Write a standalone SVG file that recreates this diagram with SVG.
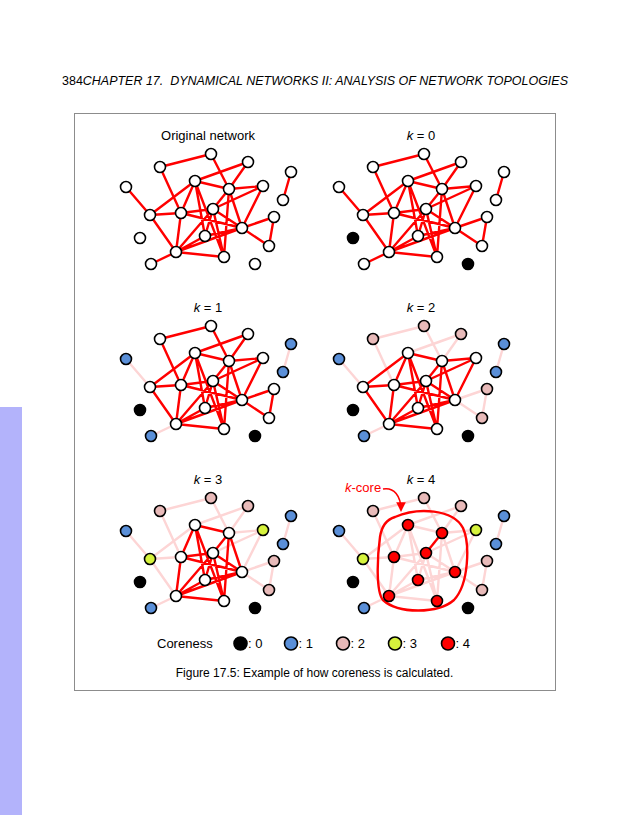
<svg xmlns="http://www.w3.org/2000/svg" xmlns:xlink="http://www.w3.org/1999/xlink" width="630" height="815" viewBox="0 0 630 815">
<style>
text{font-family:"Liberation Sans",Arial,sans-serif;fill:#000}
.red{stroke:#f00;stroke-width:2.4;fill:none;stroke-linecap:round}
.pink{stroke:#fdd5d5;stroke-width:2.4;fill:none;stroke-linecap:round}
circle{stroke:#000;stroke-width:1.6}
.w{fill:#fff}.c0{fill:#000}.c1{fill:#5a8fd8}.c2{fill:#e8bab9}.c3{fill:#d6f23c}.c4{fill:#f00}
.ttl{font-size:13px;text-anchor:middle}
</style>
<defs>
<path id="m1" d="M291 172L283 200M126 187L150 215M176 252L151 264"/>
<path id="m2" d="M211 154L160 167M211 154L229 189M160 167L181 213M248 162L195 181M248 162L229 189M274 217L242 228M274 217L269 246M242 228L269 246"/>
<path id="m3" d="M150 215L195 181M150 215L181 213M150 215L176 252M263 186L229 189M263 186L213 209M263 186L242 228"/>
<path id="m4" d="M195 181L229 189M195 181L181 213M195 181L205 236M195 181L224 257M229 189L242 228M229 189L224 257M181 213L213 209M181 213L176 252M181 213L242 228M213 209L242 228M213 209L176 252M213 209L224 257M213 209L205 236M205 236L242 228M205 236L176 252M176 252L224 257M176 252L242 228"/>
<path id="gl" d="M229 189L213 209"/>
<marker id="ah" viewBox="0 0 10 10" refX="8" refY="5" markerWidth="6" markerHeight="6" orient="auto"><path d="M0 0L10 5L0 10z" fill="#f00"/></marker>
</defs>
<rect x="0" y="407" width="22" height="408" fill="#b3b3fb"/>
<text x="62" y="85" font-size="12" textLength="506" lengthAdjust="spacingAndGlyphs" xml:space="preserve">384<tspan font-style="italic">CHAPTER 17.  DYNAMICAL NETWORKS II: ANALYSIS OF NETWORK TOPOLOGIES</tspan></text>
<rect x="74.5" y="113.5" width="481" height="577" fill="none" stroke="#8c8c8c" stroke-width="1"/>

<g id="panel-original">
<text class="ttl" x="208" y="140">Original network</text>
<g id="connectors-original"><use xlink:href="#m1" class="red"/><use xlink:href="#m2" class="red"/><use xlink:href="#m3" class="red"/><use xlink:href="#m4" class="red"/><use xlink:href="#gl" class="red"/></g>
<g id="o-A"><circle class="w" cx="211" cy="154" r="5.5"/></g>
<g id="o-B"><circle class="w" cx="160" cy="167" r="5.5"/></g>
<g id="o-C"><circle class="w" cx="248" cy="162" r="5.5"/></g>
<g id="o-D"><circle class="w" cx="291" cy="172" r="5.5"/></g>
<g id="o-E"><circle class="w" cx="126" cy="187" r="5.5"/></g>
<g id="o-F"><circle class="w" cx="195" cy="181" r="5.5"/></g>
<g id="o-G"><circle class="w" cx="229" cy="189" r="5.5"/></g>
<g id="o-H"><circle class="w" cx="263" cy="186" r="5.5"/></g>
<g id="o-I"><circle class="w" cx="283" cy="200" r="5.5"/></g>
<g id="o-J"><circle class="w" cx="150" cy="215" r="5.5"/></g>
<g id="o-K"><circle class="w" cx="181" cy="213" r="5.5"/></g>
<g id="o-L"><circle class="w" cx="213" cy="209" r="5.5"/></g>
<g id="o-M"><circle class="w" cx="274" cy="217" r="5.5"/></g>
<g id="o-N"><circle class="w" cx="242" cy="228" r="5.5"/></g>
<g id="o-O"><circle class="w" cx="140" cy="238" r="5.5"/></g>
<g id="o-P"><circle class="w" cx="205" cy="236" r="5.5"/></g>
<g id="o-Q"><circle class="w" cx="269" cy="246" r="5.5"/></g>
<g id="o-R"><circle class="w" cx="176" cy="252" r="5.5"/></g>
<g id="o-S"><circle class="w" cx="224" cy="257" r="5.5"/></g>
<g id="o-T"><circle class="w" cx="151" cy="264" r="5.5"/></g>
<g id="o-U"><circle class="w" cx="255" cy="264" r="5.5"/></g>
</g>

<g id="panel-k0" transform="translate(213,0)">
<text class="ttl" x="208" y="140"><tspan font-style="italic">k</tspan> = 0</text>
<g id="connectors-k0"><use xlink:href="#m1" class="red"/><use xlink:href="#m2" class="red"/><use xlink:href="#m3" class="red"/><use xlink:href="#m4" class="red"/><use xlink:href="#gl" class="red"/></g>
<g id="k0-A"><circle class="w" cx="211" cy="154" r="5.5"/></g>
<g id="k0-B"><circle class="w" cx="160" cy="167" r="5.5"/></g>
<g id="k0-C"><circle class="w" cx="248" cy="162" r="5.5"/></g>
<g id="k0-D"><circle class="w" cx="291" cy="172" r="5.5"/></g>
<g id="k0-E"><circle class="w" cx="126" cy="187" r="5.5"/></g>
<g id="k0-F"><circle class="w" cx="195" cy="181" r="5.5"/></g>
<g id="k0-G"><circle class="w" cx="229" cy="189" r="5.5"/></g>
<g id="k0-H"><circle class="w" cx="263" cy="186" r="5.5"/></g>
<g id="k0-I"><circle class="w" cx="283" cy="200" r="5.5"/></g>
<g id="k0-J"><circle class="w" cx="150" cy="215" r="5.5"/></g>
<g id="k0-K"><circle class="w" cx="181" cy="213" r="5.5"/></g>
<g id="k0-L"><circle class="w" cx="213" cy="209" r="5.5"/></g>
<g id="k0-M"><circle class="w" cx="274" cy="217" r="5.5"/></g>
<g id="k0-N"><circle class="w" cx="242" cy="228" r="5.5"/></g>
<g id="k0-O"><circle class="c0" cx="140" cy="238" r="5.5"/></g>
<g id="k0-P"><circle class="w" cx="205" cy="236" r="5.5"/></g>
<g id="k0-Q"><circle class="w" cx="269" cy="246" r="5.5"/></g>
<g id="k0-R"><circle class="w" cx="176" cy="252" r="5.5"/></g>
<g id="k0-S"><circle class="w" cx="224" cy="257" r="5.5"/></g>
<g id="k0-T"><circle class="w" cx="151" cy="264" r="5.5"/></g>
<g id="k0-U"><circle class="c0" cx="255" cy="264" r="5.5"/></g>
</g>

<g id="panel-k1" transform="translate(0,172)">
<text class="ttl" x="208" y="140"><tspan font-style="italic">k</tspan> = 1</text>
<g id="connectors-k1"><use xlink:href="#m1" class="pink"/><use xlink:href="#m2" class="red"/><use xlink:href="#m3" class="red"/><use xlink:href="#m4" class="red"/><use xlink:href="#gl" class="red"/></g>
<g id="k1-A"><circle class="w" cx="211" cy="154" r="5.5"/></g>
<g id="k1-B"><circle class="w" cx="160" cy="167" r="5.5"/></g>
<g id="k1-C"><circle class="w" cx="248" cy="162" r="5.5"/></g>
<g id="k1-D"><circle class="c1" cx="291" cy="172" r="5.5"/></g>
<g id="k1-E"><circle class="c1" cx="126" cy="187" r="5.5"/></g>
<g id="k1-F"><circle class="w" cx="195" cy="181" r="5.5"/></g>
<g id="k1-G"><circle class="w" cx="229" cy="189" r="5.5"/></g>
<g id="k1-H"><circle class="w" cx="263" cy="186" r="5.5"/></g>
<g id="k1-I"><circle class="c1" cx="283" cy="200" r="5.5"/></g>
<g id="k1-J"><circle class="w" cx="150" cy="215" r="5.5"/></g>
<g id="k1-K"><circle class="w" cx="181" cy="213" r="5.5"/></g>
<g id="k1-L"><circle class="w" cx="213" cy="209" r="5.5"/></g>
<g id="k1-M"><circle class="w" cx="274" cy="217" r="5.5"/></g>
<g id="k1-N"><circle class="w" cx="242" cy="228" r="5.5"/></g>
<g id="k1-O"><circle class="c0" cx="140" cy="238" r="5.5"/></g>
<g id="k1-P"><circle class="w" cx="205" cy="236" r="5.5"/></g>
<g id="k1-Q"><circle class="w" cx="269" cy="246" r="5.5"/></g>
<g id="k1-R"><circle class="w" cx="176" cy="252" r="5.5"/></g>
<g id="k1-S"><circle class="w" cx="224" cy="257" r="5.5"/></g>
<g id="k1-T"><circle class="c1" cx="151" cy="264" r="5.5"/></g>
<g id="k1-U"><circle class="c0" cx="255" cy="264" r="5.5"/></g>
</g>

<g id="panel-k2" transform="translate(213,172)">
<text class="ttl" x="208" y="140"><tspan font-style="italic">k</tspan> = 2</text>
<g id="connectors-k2"><use xlink:href="#m1" class="pink"/><use xlink:href="#m2" class="pink"/><use xlink:href="#m3" class="red"/><use xlink:href="#m4" class="red"/><use xlink:href="#gl" class="red"/></g>
<g id="k2-A"><circle class="c2" cx="211" cy="154" r="5.5"/></g>
<g id="k2-B"><circle class="c2" cx="160" cy="167" r="5.5"/></g>
<g id="k2-C"><circle class="c2" cx="248" cy="162" r="5.5"/></g>
<g id="k2-D"><circle class="c1" cx="291" cy="172" r="5.5"/></g>
<g id="k2-E"><circle class="c1" cx="126" cy="187" r="5.5"/></g>
<g id="k2-F"><circle class="w" cx="195" cy="181" r="5.5"/></g>
<g id="k2-G"><circle class="w" cx="229" cy="189" r="5.5"/></g>
<g id="k2-H"><circle class="w" cx="263" cy="186" r="5.5"/></g>
<g id="k2-I"><circle class="c1" cx="283" cy="200" r="5.5"/></g>
<g id="k2-J"><circle class="w" cx="150" cy="215" r="5.5"/></g>
<g id="k2-K"><circle class="w" cx="181" cy="213" r="5.5"/></g>
<g id="k2-L"><circle class="w" cx="213" cy="209" r="5.5"/></g>
<g id="k2-M"><circle class="c2" cx="274" cy="217" r="5.5"/></g>
<g id="k2-N"><circle class="w" cx="242" cy="228" r="5.5"/></g>
<g id="k2-O"><circle class="c0" cx="140" cy="238" r="5.5"/></g>
<g id="k2-P"><circle class="w" cx="205" cy="236" r="5.5"/></g>
<g id="k2-Q"><circle class="c2" cx="269" cy="246" r="5.5"/></g>
<g id="k2-R"><circle class="w" cx="176" cy="252" r="5.5"/></g>
<g id="k2-S"><circle class="w" cx="224" cy="257" r="5.5"/></g>
<g id="k2-T"><circle class="c1" cx="151" cy="264" r="5.5"/></g>
<g id="k2-U"><circle class="c0" cx="255" cy="264" r="5.5"/></g>
</g>

<g id="panel-k3" transform="translate(0,344)">
<text class="ttl" x="208" y="140"><tspan font-style="italic">k</tspan> = 3</text>
<g id="connectors-k3"><use xlink:href="#m1" class="pink"/><use xlink:href="#m2" class="pink"/><use xlink:href="#m3" class="pink"/><use xlink:href="#m4" class="red"/><use xlink:href="#gl" class="red"/></g>
<g id="k3-A"><circle class="c2" cx="211" cy="154" r="5.5"/></g>
<g id="k3-B"><circle class="c2" cx="160" cy="167" r="5.5"/></g>
<g id="k3-C"><circle class="c2" cx="248" cy="162" r="5.5"/></g>
<g id="k3-D"><circle class="c1" cx="291" cy="172" r="5.5"/></g>
<g id="k3-E"><circle class="c1" cx="126" cy="187" r="5.5"/></g>
<g id="k3-F"><circle class="w" cx="195" cy="181" r="5.5"/></g>
<g id="k3-G"><circle class="w" cx="229" cy="189" r="5.5"/></g>
<g id="k3-H"><circle class="c3" cx="263" cy="186" r="5.5"/></g>
<g id="k3-I"><circle class="c1" cx="283" cy="200" r="5.5"/></g>
<g id="k3-J"><circle class="c3" cx="150" cy="215" r="5.5"/></g>
<g id="k3-K"><circle class="w" cx="181" cy="213" r="5.5"/></g>
<g id="k3-L"><circle class="w" cx="213" cy="209" r="5.5"/></g>
<g id="k3-M"><circle class="c2" cx="274" cy="217" r="5.5"/></g>
<g id="k3-N"><circle class="w" cx="242" cy="228" r="5.5"/></g>
<g id="k3-O"><circle class="c0" cx="140" cy="238" r="5.5"/></g>
<g id="k3-P"><circle class="w" cx="205" cy="236" r="5.5"/></g>
<g id="k3-Q"><circle class="c2" cx="269" cy="246" r="5.5"/></g>
<g id="k3-R"><circle class="w" cx="176" cy="252" r="5.5"/></g>
<g id="k3-S"><circle class="w" cx="224" cy="257" r="5.5"/></g>
<g id="k3-T"><circle class="c1" cx="151" cy="264" r="5.5"/></g>
<g id="k3-U"><circle class="c0" cx="255" cy="264" r="5.5"/></g>
</g>

<g id="panel-k4" transform="translate(213,344)">
<text class="ttl" x="208" y="140"><tspan font-style="italic">k</tspan> = 4</text>
<g id="connectors-k4"><use xlink:href="#m1" class="pink"/><use xlink:href="#m2" class="pink"/><use xlink:href="#m3" class="pink"/><use xlink:href="#m4" class="pink"/><use xlink:href="#gl" class="red"/>
<path d="M182 173C205 163 240 165 250 184C257 200 256 240 241 256C225 270 185 270 170 256C163 248 164 215 167 193C169 180 175 175 182 173Z" class="red" stroke-width="2.6"/>
<path d="M170 145C181 143 188 152 188 166" fill="none" stroke="#f00" stroke-width="1.6" marker-end="url(#ah)"/>
</g>
<text x="132" y="148" font-size="13" fill="#f00" style="fill:#f00"><tspan font-style="italic">k</tspan>-core</text>
<g id="k4-A"><circle class="c2" cx="211" cy="154" r="5.5"/></g>
<g id="k4-B"><circle class="c2" cx="160" cy="167" r="5.5"/></g>
<g id="k4-C"><circle class="c2" cx="248" cy="162" r="5.5"/></g>
<g id="k4-D"><circle class="c1" cx="291" cy="172" r="5.5"/></g>
<g id="k4-E"><circle class="c1" cx="126" cy="187" r="5.5"/></g>
<g id="k4-F"><circle class="c4" cx="195" cy="181" r="5.5"/></g>
<g id="k4-G"><circle class="c4" cx="229" cy="189" r="5.5"/></g>
<g id="k4-H"><circle class="c3" cx="263" cy="186" r="5.5"/></g>
<g id="k4-I"><circle class="c1" cx="283" cy="200" r="5.5"/></g>
<g id="k4-J"><circle class="c3" cx="150" cy="215" r="5.5"/></g>
<g id="k4-K"><circle class="c4" cx="181" cy="213" r="5.5"/></g>
<g id="k4-L"><circle class="c4" cx="213" cy="209" r="5.5"/></g>
<g id="k4-M"><circle class="c2" cx="274" cy="217" r="5.5"/></g>
<g id="k4-N"><circle class="c4" cx="242" cy="228" r="5.5"/></g>
<g id="k4-O"><circle class="c0" cx="140" cy="238" r="5.5"/></g>
<g id="k4-P"><circle class="c4" cx="205" cy="236" r="5.5"/></g>
<g id="k4-Q"><circle class="c2" cx="269" cy="246" r="5.5"/></g>
<g id="k4-R"><circle class="c4" cx="176" cy="252" r="5.5"/></g>
<g id="k4-S"><circle class="c4" cx="224" cy="257" r="5.5"/></g>
<g id="k4-T"><circle class="c1" cx="151" cy="264" r="5.5"/></g>
<g id="k4-U"><circle class="c0" cx="255" cy="264" r="5.5"/></g>
</g>

<g id="legend">
<text x="157" y="648" font-size="13">Coreness</text>
<circle class="c0" cx="240.5" cy="643.5" r="6.5"/><text x="248" y="648" font-size="13">: 0</text>
<circle class="c1" cx="291" cy="643.5" r="6.5"/><text x="298.5" y="648" font-size="13">: 1</text>
<circle class="c2" cx="343" cy="643.5" r="6.5"/><text x="350.5" y="648" font-size="13">: 2</text>
<circle class="c3" cx="395" cy="643.5" r="6.5"/><text x="402.5" y="648" font-size="13">: 3</text>
<circle class="c4" cx="448" cy="643.5" r="6.5"/><text x="455.5" y="648" font-size="13">: 4</text>
</g>
<text x="314.5" y="677" font-size="12" text-anchor="middle">Figure 17.5: Example of how coreness is calculated.</text>
</svg>
